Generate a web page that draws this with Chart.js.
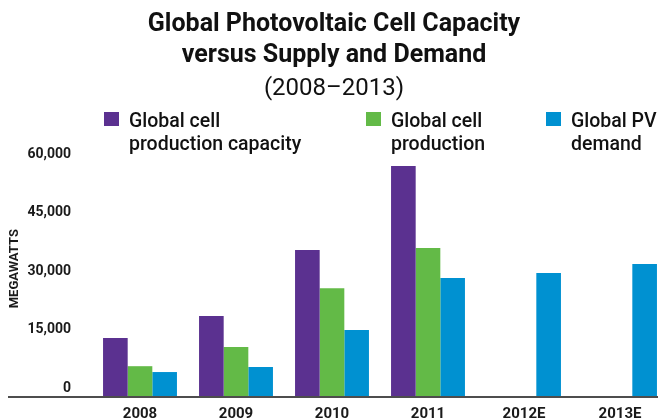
<!DOCTYPE html>
<html lang="en">
<head>
    <meta charset="UTF-8">
    <title>Global Photovoltaic Cell Capacity</title>
    <script src="https://cdn.jsdelivr.net/npm/chart.js"></script>
    <style>
        body {
            margin: 0;
            background-color: #ffffff;
            overflow: hidden;
            font-family: 'Roboto', sans-serif;
        }
        .chart-wrap {
            position: relative;
            width: 668px;
            height: 425px;
        }
        .legend {
            position: absolute;
            top: 109px;
            left: 104px;
            display: flex;
            margin: 0;
            padding: 0;
            list-style: none;
        }
        .legend li {
            display: flex;
            align-items: flex-start;
            font-size: 19.5px;
            font-weight: 500;
            line-height: 23px;
            color: #111;
            white-space: pre;
        }
        .legend li:nth-child(1) { width: 262px; }
        .legend li:nth-child(2) { width: 180px; }
        .legend .swatch {
            width: 15px;
            height: 14px;
            margin-top: 3px;
            margin-right: 10px;
            flex: none;
        }
    </style>
</head>
<body>
    <div class="chart-wrap">
        <canvas id="pvChart"></canvas>
        <ul id="pvLegend" class="legend"></ul>
    </div>
    <script>
        // values (megawatts)
        const years = ['2008', '2009', '2010', '2011', '2012E', '2013E'];
        const seriesNames = ['Global cell\nproduction capacity', 'Global cell\nproduction', 'Global PV\ndemand'];
        const seriesColors = ['#5b3190', '#63ba47', '#0091d1'];
        const capacity = [15100, 20800, 37700, 59200, null, null];
        const production = [7900, 12800, 27900, 38200, null, null];
        const demand = [6400, 7700, 17200, 30500, 31800, 34100];
        const yTicks = [0, 15000, 30000, 45000, 60000];

        const tickFont = { family: 'Roboto', size: 14, weight: 'bold' };

        const datasets = [capacity, production, demand].map((values, i) => ({
            label: seriesNames[i],
            data: values,
            backgroundColor: seriesColors[i],
            borderWidth: 0,
            categoryPercentage: 0.77,
            barPercentage: 1
        }));

        const chart = new Chart(document.getElementById('pvChart'), {
            type: 'bar',
            data: { labels: years, datasets: datasets },
            options: {
                responsive: true,
                maintainAspectRatio: false,
                animation: false,
                layout: { padding: 0 },
                plugins: {
                    legend: { display: false },
                    tooltip: { enabled: false },
                    title: {
                        display: true,
                        text: ['Global Photovoltaic Cell Capacity', 'versus Supply and Demand'],
                        color: '#111',
                        font: { family: 'Roboto', size: 25, weight: 'bold', lineHeight: 1.25 },
                        padding: { top: 9, bottom: 1 }
                    },
                    subtitle: {
                        display: true,
                        text: '(2008\u20132013)',
                        color: '#111',
                        font: { family: 'Roboto', size: 24, weight: 'normal', lineHeight: 1.0 },
                        padding: { top: 4, bottom: 62.5 }
                    }
                },
                scales: {
                    x: {
                        afterFit: scale => { scale.height = 28; },
                        grid: { display: false, drawTicks: false },
                        border: { display: false },
                        ticks: { font: { family: 'Roboto', size: 15, weight: 'bold' }, color: '#1a1a1a', padding: 8 }
                    },
                    y: {
                        min: 0,
                        max: 60000,
                        afterBuildTicks: scale => { scale.ticks = yTicks.map(v => ({ value: v })); },
                        afterFit: scale => { scale.width = 92; },
                        border: { display: false },
                        grid: {
                            color: ctx => (ctx.tick && ctx.tick.value === 0) ? '#4d4d4d' : 'rgba(0,0,0,0)',
                            lineWidth: 2,
                            drawTicks: true,
                            tickLength: 84
                        },
                        ticks: {
                            font: tickFont,
                            color: '#1a1a1a',
                            padding: -63,
                            labelOffset: -9,
                            callback: v => v.toLocaleString('en-US')
                        },
                        title: {
                            display: true,
                            // leading spaces lift the label a little above the axis middle
                            text: '\u00a0\u00a0\u00a0\u00a0\u00a0\u00a0\u00a0MEGAWATTS',
                            color: '#1a1a1a',
                            font: { family: 'Roboto', size: 13, weight: 'bold', lineHeight: 1.2 },
                            padding: { top: 7, bottom: 0 }
                        }
                    }
                }
            }
        });

        // legend built from the chart's own datasets
        const legendEl = document.getElementById('pvLegend');
        chart.data.datasets.forEach(ds => {
            const li = document.createElement('li');
            const sw = document.createElement('span');
            sw.className = 'swatch';
            sw.style.backgroundColor = ds.backgroundColor;
            const txt = document.createElement('span');
            txt.textContent = ds.label;
            li.appendChild(sw);
            li.appendChild(txt);
            legendEl.appendChild(li);
        });
    </script>
</body>
</html>
